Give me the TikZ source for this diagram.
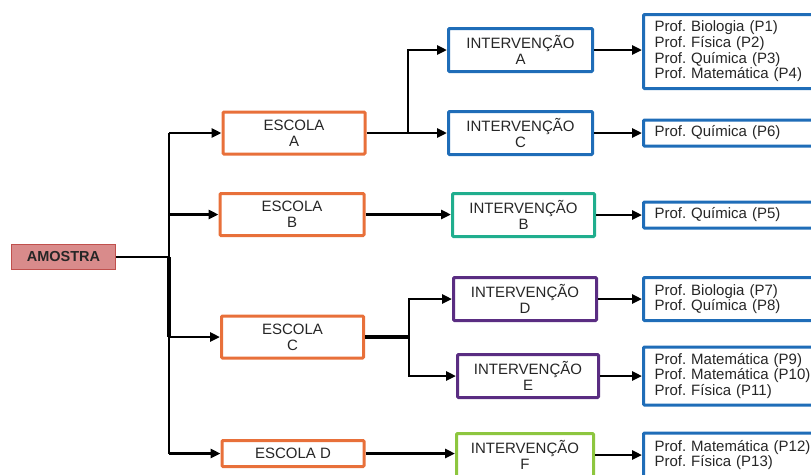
\documentclass[tikz,border=0pt]{standalone}
\usepackage{fontspec}
\setmainfont{Liberation Sans}
\usetikzlibrary{arrows.meta}
\frenchspacing
\definecolor{laranja}{HTML}{E8703A}
\definecolor{azul}{HTML}{1F6DB8}
\definecolor{verdeagua}{HTML}{20AE8E}
\definecolor{roxo}{HTML}{5A2D82}
\definecolor{verde}{HTML}{8DC63F}
\definecolor{rosa}{HTML}{D98B8B}
\definecolor{vermelho}{HTML}{C0504D}
\tikzset{
  caixa/.style={draw, line width=3pt, rounded corners=1pt, fill=white, inner sep=0pt,
    align=center, text=black!85, font=\fontsize{15}{16}\selectfont},
  escola/.style={caixa, draw=laranja, minimum width=142pt, minimum height=42pt},
  interv/.style={caixa, minimum width=143pt, minimum height=43pt},
  prof/.style={caixa, draw=azul, align=left, text width=180pt, inner xsep=11pt,
    font=\fontsize{15}{15.7}\selectfont},
  seta/.style={line width=2.8pt, -{Triangle[length=10pt,width=9pt]}},
  linha/.style={line width=2.8pt},
  grossa/.style={line width=4.2pt},
}
\begin{document}
\begin{tikzpicture}[x=1pt,y=-1pt]
\useasboundingbox (0,0) rectangle (811,474);

%%%%%%%%%%%%%%%%%%%%%Draw The Sample Node%%%%%%%%%%%%%%%%%%%%%
\node[draw=vermelho, fill=rosa, line width=1pt, minimum width=104pt, minimum height=25pt,
  inner sep=0pt, font=\fontsize{14.5}{16}\selectfont\bfseries, text=black!85] (amostra) at (63.5,257) {AMOSTRA};

%%%%%%%%%%%%%%%%%%%%%%%Draw The Schools%%%%%%%%%%%%%%%%%%%%%%%
\node[escola] (escA) at (294,133) {ESCOLA\\A};
\node[escola, minimum width=144pt] (escB) at (292,214.5) {ESCOLA\\B};
\node[escola] (escC) at (292.5,337) {ESCOLA\\C};
\node[escola, minimum height=26pt] (escD) at (293,453.5) {ESCOLA D};

%%%%%%%%%%%%%%%%%%%%Draw The Interventions%%%%%%%%%%%%%%%%%%%%
\node[interv, draw=azul, minimum width=144pt] (intA) at (520.5,50) {INTERVENÇÃO\\A};
\node[interv, draw=azul, minimum width=144pt] (intC) at (520.5,133) {INTERVENÇÃO\\C};
\node[interv, draw=verdeagua, minimum width=142pt] (intB) at (523.5,215) {INTERVENÇÃO\\B};
\node[interv, draw=roxo] (intD) at (525,299) {INTERVENÇÃO\\D};
\node[interv, draw=roxo, minimum width=141pt] (intE) at (528,376) {INTERVENÇÃO\\E};
\node[interv, draw=verde, minimum width=137pt] (intF) at (525,455) {INTERVENÇÃO\\F};

%%%%%%%%%%%%%%%%%%%%%Draw The Teachers%%%%%%%%%%%%%%%%%%%%%%%%
\node[prof, minimum height=74pt] (pA) at (744.5,51.5)
  {Prof. Biologia (P1)\\Prof. Física (P2)\\Prof. Química (P3)\\Prof. Matemática (P4)};
\node[prof, minimum height=26pt] (pC) at (744.5,133) {Prof. Química (P6)};
\node[prof, minimum height=26pt] (pB) at (744.5,215) {Prof. Química (P5)};
\node[prof, minimum height=43pt] (pD) at (744.5,299) {Prof. Biologia (P7)\\Prof. Química (P8)};
\node[prof, minimum height=58pt] (pE) at (744.5,376) {Prof. Matemática (P9)\\Prof. Matemática (P10)\\Prof. Física (P11)};
\node[prof, minimum height=44pt] (pF) at (744.5,455) {Prof. Matemática (P12)\\Prof. Física (P13)};

%%%%%%%%%%%%%%%%%Draw The Trunk to The Schools%%%%%%%%%%%%%%%%%
\coordinate (tronco) at (169,257);
\draw[linha] (amostra.east) -- (tronco);
\draw[linha] (tronco |- escA) -- (tronco);
\draw[grossa] (tronco) -- (tronco |- escC);
\draw[linha] (tronco |- escC) -- (tronco |- escD);
\draw[seta] (tronco |- escA) -- (escA.west);
\draw[seta] (tronco |- escB) -- (escB.west);
\draw[seta] (tronco |- escC) -- (escC.west);
\draw[seta] (tronco |- escD) -- (escD.west);

%%%%%%%%%%%%%%%%Draw Schools to Interventions%%%%%%%%%%%%%%%%%%
\coordinate (jA) at (408,133);
\draw[linha] (escA.east) -- (jA);
\draw[seta] (jA) |- (intA.west);
\draw[seta] (jA) -- (intC.west);
\draw[seta] (escB.east) -- (escB.east -| intB.west);
\coordinate (jC) at (409,337);
\draw[grossa] (escC.east) -- (jC);
\draw[seta] (jC) |- (intD.west);
\draw[seta] (jC) |- (intE.west);
\draw[seta] (escD.east) -- (escD.east -| intF.west);

%%%%%%%%%%%%%%%Draw Interventions to Teachers%%%%%%%%%%%%%%%%%%
\draw[seta] (intA.east) -- (intA.east -| pA.west);
\draw[seta] (intC.east) -- (intC.east -| pC.west);
\draw[seta] (intB.east) -- (intB.east -| pB.west);
\draw[seta] (intD.east) -- (intD.east -| pD.west);
\draw[seta] (intE.east) -- (intE.east -| pE.west);
\draw[seta] (intF.east) -- (intF.east -| pF.west);

\end{tikzpicture}
\end{document}
